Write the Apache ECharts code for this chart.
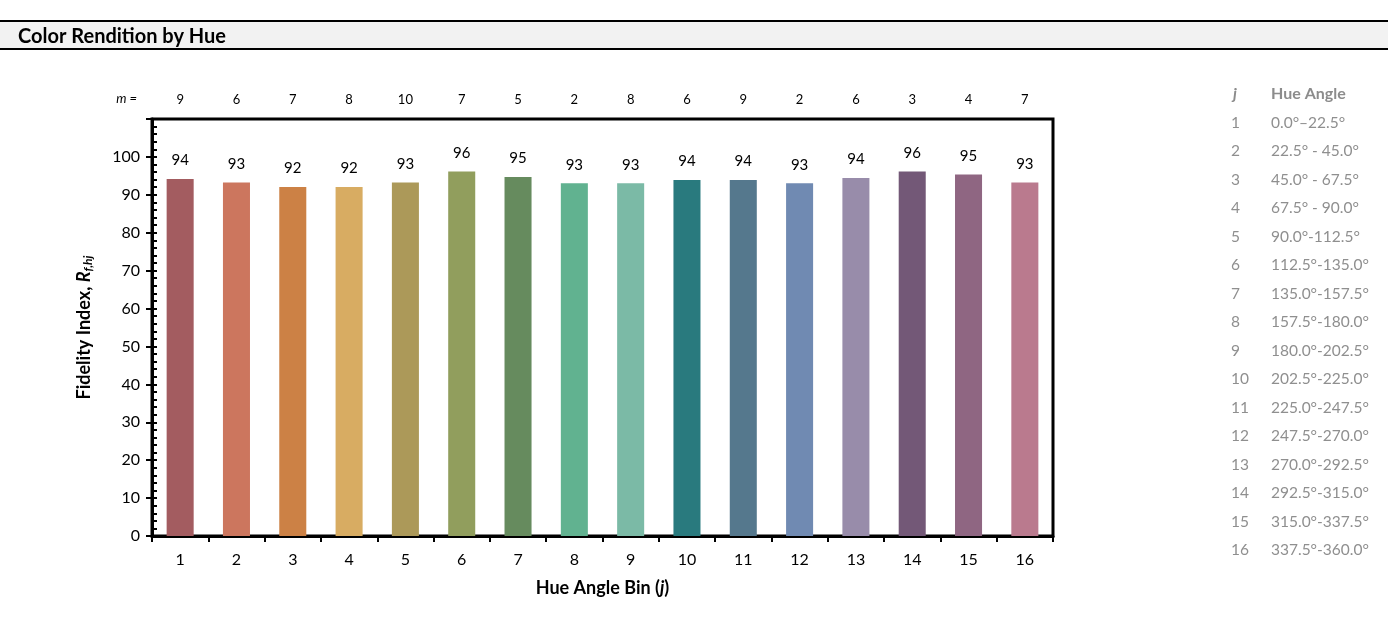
<!DOCTYPE html>
<html>
<head>
<meta charset="utf-8">
<script src="https://cdn.jsdelivr.net/npm/echarts@6/dist/echarts.min.js"></script>
<style>
html,body{margin:0;padding:0;background:#fff;}
#chart{width:1388px;height:618px;}
</style>
</head>
<body>
<div id="chart"></div>
<script>
var categories = ['1','2','3','4','5','6','7','8','9','10','11','12','13','14','15','16'];
var fidelity = [94.15, 93.28, 92.06, 92.06, 93.28, 96.16, 94.67, 93.02, 93.02, 93.89, 93.89, 93.02, 94.41, 96.16, 95.38, 93.28];
var mCounts = ['9','6','7','8','10','7','5','2','8','6','9','2','6','3','4','7'];
var binColors = ['#A35C60','#CC765E','#CC8145','#D8AC62','#AC9959','#919E5D','#668B5E','#61B290','#7BBAA6','#297A7E','#55788D','#708AB2','#988CAA','#735877','#8F6682','#BA7A8E'];
var hueAngles = ['0.0°–22.5°','22.5° - 45.0°','45.0° - 67.5°','67.5° - 90.0°','90.0°-112.5°','112.5°-135.0°','135.0°-157.5°','157.5°-180.0°','180.0°-202.5°','202.5°-225.0°','225.0°-247.5°','247.5°-270.0°','270.0°-292.5°','292.5°-315.0°','315.0°-337.5°','337.5°-360.0°'];
var yTicks = [0,10,20,30,40,50,60,70,80,90,100];

var FONT = 'Lato, "Open Sans", sans-serif';
var chart = echarts.init(document.getElementById('chart'));

var graphics = [
  {type:'rect', shape:{x:0,y:21,width:1388,height:28}, style:{fill:'#f2f2f2'}},
  {type:'line', shape:{x1:0,y1:21,x2:1388,y2:21}, style:{stroke:'#000',lineWidth:2}},
  {type:'line', shape:{x1:0,y1:49,x2:1388,y2:49}, style:{stroke:'#000',lineWidth:2}},
  {type:'text', style:{x:18, y:37, text:'Color Rendition by Hue', font:'bold 20px ' + FONT, fill:'#000', textAlign:'left', textVerticalAlign:'middle'}},
  {type:'text', style:{x:137, y:99, text:'m =', font:'italic 13px ' + FONT, fill:'#000', textAlign:'right', textVerticalAlign:'middle'}},
  {type:'text', style:{x:1233, y:94, text:'j', font:'italic bold 16px ' + FONT, fill:'#8c8c8c', textAlign:'left', textVerticalAlign:'middle'}},
  {type:'text', style:{x:1271, y:94, text:'Hue Angle', font:'bold 16px ' + FONT, fill:'#8c8c8c', textAlign:'left', textVerticalAlign:'middle'}}
];
hueAngles.forEach(function(h, i){
  var y = 123 + i * 28.47;
  graphics.push({type:'text', style:{x:1231, y:y, text:categories[i], font:'15.5px ' + FONT, fill:'#8f8f8f', textAlign:'left', textVerticalAlign:'middle'}});
  graphics.push({type:'text', style:{x:1271, y:y, text:h, font:'15.5px ' + FONT, fill:'#8f8f8f', textAlign:'left', textVerticalAlign:'middle'}});
});

var option = {
  animation:false,
  textStyle:{fontFamily:FONT},
  grid:{left:152, right:335, top:119, bottom:82, show:true, borderColor:'#000', borderWidth:3, backgroundColor:'transparent'},
  graphic:graphics,
  xAxis:[
    {type:'category', data:categories, position:'bottom',
     axisLine:{show:true, lineStyle:{color:'#000', width:3}},
     axisTick:{show:true, length:6, lineStyle:{color:'#000', width:2}},
     axisLabel:{color:'#000', fontSize:16, margin:16, fontFamily:FONT},
     name:'{b|Hue Angle Bin (}{bi|j}{b|)}', nameLocation:'middle', nameGap:43,
     nameTextStyle:{rich:{b:{fontSize:18, fontWeight:'bold', color:'#000', fontFamily:FONT}, bi:{fontSize:18, fontWeight:'bold', fontStyle:'italic', color:'#000', fontFamily:FONT}}}
    },
    {type:'category', data:mCounts, position:'top',
     axisLine:{show:false}, axisTick:{show:false},
     axisLabel:{color:'#000', fontSize:13, margin:13, fontFamily:FONT}
    }
  ],
  yAxis:[
    {type:'value', min:0, max:110, interval:10, position:'left',
     axisLine:{show:true, lineStyle:{color:'#000', width:3}},
     axisTick:{show:true, length:6, lineStyle:{color:'#000', width:2}},
     axisLabel:{color:'#000', fontSize:16, margin:12, fontFamily:FONT,
       formatter:function(v){ return yTicks.indexOf(v) >= 0 ? String(v) : ''; }},
     splitLine:{show:false},
     name:'{b|Fidelity Index, }{r|R}{s|f,hj}', nameLocation:'middle', nameGap:58, nameRotate:90,
     nameTextStyle:{rich:{b:{fontSize:18, fontWeight:'bold', color:'#000', fontFamily:FONT}, r:{fontSize:18, fontWeight:'bold', fontStyle:'italic', color:'#000', fontFamily:FONT}, s:{fontSize:12, fontWeight:'bold', fontStyle:'italic', color:'#000', fontFamily:FONT, padding:[8,0,0,0]}}}
    },
    {type:'value', min:0, max:110, interval:2, position:'left',
     axisLine:{show:false},
     axisTick:{show:true, inside:true, length:5, lineStyle:{color:'#000', width:2}},
     axisLabel:{show:false}, splitLine:{show:false}
    }
  ],
  series:[{
    type:'bar', xAxisIndex:0, yAxisIndex:0, data:fidelity, barWidth:'48%',
    itemStyle:{color:function(p){ return binColors[p.dataIndex]; }},
    label:{show:true, position:'top', distance:11, color:'#000', fontSize:15, fontFamily:FONT,
      formatter:function(p){ return Math.round(p.value); }}
  }]
};
chart.setOption(option);
</script>
</body>
</html>
